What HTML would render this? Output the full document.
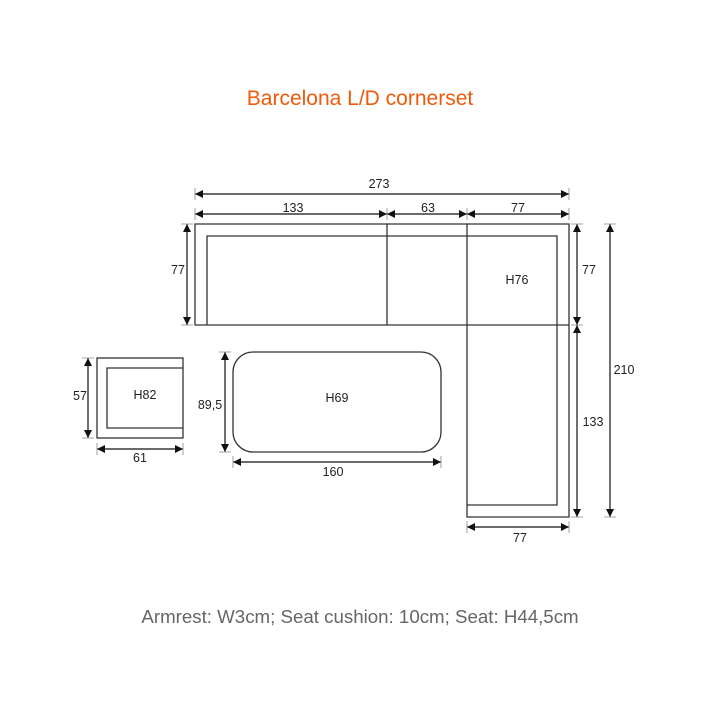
<!DOCTYPE html>
<html><head><meta charset="utf-8"><style>
html,body{margin:0;padding:0;background:#fff;}
</style></head><body>
<svg width="720" height="720" viewBox="0 0 720 720" xmlns="http://www.w3.org/2000/svg" font-family="Liberation Sans, sans-serif">
<defs>
<marker id="a" viewBox="0 0 10 10" refX="10" refY="5" markerWidth="10" markerHeight="8" markerUnits="userSpaceOnUse" orient="auto-start-reverse"><path d="M0,0 L10,5 L0,10 z" fill="#111"/></marker>
</defs>
<rect width="720" height="720" fill="#fff"/>
<text x="360" y="105" text-anchor="middle" font-size="21" fill="#f05a0a">Barcelona L/D cornerset</text>
<text x="360" y="623" text-anchor="middle" font-size="18.7" fill="#666">Armrest: W3cm; Seat cushion: 10cm; Seat: H44,5cm</text>
<g fill="none" stroke="#333" stroke-width="1.3">
<path d="M195,224 H569 V517 H467 V325 H195 Z"/>
<path d="M207,325 V236 H557 V505 H467"/>
<path d="M387,224 V325 M467,224 V325 M467,325 H569"/>
<rect x="97" y="358" width="86" height="80"/>
<path d="M183,368 H107 V428 H183"/>
<rect x="233" y="352" width="208" height="100" rx="20"/>
</g>
<g stroke="#111" stroke-width="1.2" fill="none">
<line x1="195" y1="194" x2="569" y2="194" marker-start="url(#a)" marker-end="url(#a)"/>
<line x1="195" y1="214" x2="387" y2="214" marker-start="url(#a)" marker-end="url(#a)"/>
<line x1="387" y1="214" x2="467" y2="214" marker-start="url(#a)" marker-end="url(#a)"/>
<line x1="467" y1="214" x2="569" y2="214" marker-start="url(#a)" marker-end="url(#a)"/>
<line x1="187" y1="224" x2="187" y2="325" marker-start="url(#a)" marker-end="url(#a)"/>
<line x1="577" y1="224" x2="577" y2="325" marker-start="url(#a)" marker-end="url(#a)"/>
<line x1="577" y1="325" x2="577" y2="517" marker-start="url(#a)" marker-end="url(#a)"/>
<line x1="610" y1="224" x2="610" y2="517" marker-start="url(#a)" marker-end="url(#a)"/>
<line x1="467" y1="527" x2="569" y2="527" marker-start="url(#a)" marker-end="url(#a)"/>
<line x1="88" y1="358" x2="88" y2="438" marker-start="url(#a)" marker-end="url(#a)"/>
<line x1="97" y1="449" x2="183" y2="449" marker-start="url(#a)" marker-end="url(#a)"/>
<line x1="225" y1="352" x2="225" y2="452" marker-start="url(#a)" marker-end="url(#a)"/>
<line x1="233" y1="462" x2="441" y2="462" marker-start="url(#a)" marker-end="url(#a)"/>
</g>
<g stroke="#888" stroke-width="0.8">
<path d="M195,188 V200 M569,188 V200 M195,208 V220 M387,208 V220 M467,208 V220 M569,208 V220"/>
<path d="M181,224 H193 M181,325 H193 M571,224 H583 M571,325 H583 M571,517 H583 M604,224 H616 M604,517 H616"/>
<path d="M467,521 V533 M569,521 V533 M82,358 H94 M82,438 H94 M97,443 V455 M183,443 V455 M219,352 H231 M219,452 H231 M233,456 V468 M441,456 V468"/>
</g>
<g font-size="12.5" fill="#222" text-anchor="middle">
<text x="379" y="188">273</text>
<text x="293" y="212">133</text>
<text x="428" y="212">63</text>
<text x="518" y="212">77</text>
<text x="178" y="274">77</text>
<text x="589" y="274">77</text>
<text x="593" y="426">133</text>
<text x="624" y="374">210</text>
<text x="520" y="542">77</text>
<text x="517" y="284">H76</text>
<text x="80" y="400">57</text>
<text x="140" y="462">61</text>
<text x="145" y="399">H82</text>
<text x="210" y="409">89,5</text>
<text x="337" y="402">H69</text>
<text x="333" y="476">160</text>
</g>
</svg>
</body></html>
